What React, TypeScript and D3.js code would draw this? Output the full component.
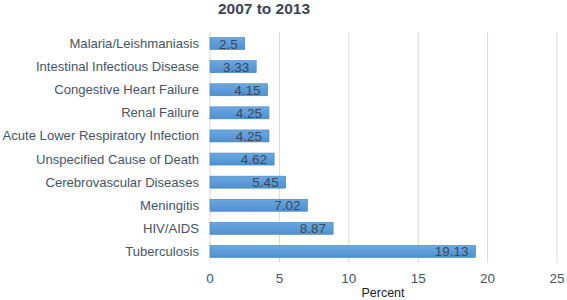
import React from "react";
import * as d3 from "d3";

const categories = [
  "Malaria/Leishmaniasis",
  "Intestinal Infectious Disease",
  "Congestive Heart Failure",
  "Renal Failure",
  "Acute Lower Respiratory Infection",
  "Unspecified Cause of Death",
  "Cerebrovascular Diseases",
  "Meningitis",
  "HIV/AIDS",
  "Tuberculosis",
];
const values = [2.5, 3.33, 4.15, 4.25, 4.25, 4.62, 5.45, 7.02, 8.87, 19.13];
const valueLabels = ["2.5", "3.33", "4.15", "4.25", "4.25", "4.62", "5.45", "7.02", "8.87", "19.13"];
const xTicks = [0, 5, 10, 15, 20, 25];
const title = "2007 to 2013";
const xTitle = "Percent";

export default function App() {
  const W = 567, H = 300;
  const x = d3.scaleLinear().domain([0, 25]).range([210, 557]);
  const y = d3.scaleBand<string>().domain(categories).range([32, 263]).paddingInner(0.48).paddingOuter(0.24);
  const font = "'Liberation Sans', Arial, sans-serif";
  const textColor = "#44546a";
  return (
    <svg width={W} height={H} style={{ position: "absolute", left: 0, top: 0, background: "#fff" }} fontFamily={font}>
      <defs>
        <linearGradient id="barg" x1="0" y1="0" x2="0" y2="1">
          <stop offset="0" stopColor="#6ba8e0" />
          <stop offset="1" stopColor="#4f90d0" />
        </linearGradient>
      </defs>
      <rect x={0} y={0} width={W} height={H} fill="#fff" />
      <text x={264} y={14} textAnchor="middle" fontSize={15.5} fontWeight="bold" fill="#3a4656">{title}</text>
      {xTicks.map((t) => (
        <g key={t}>
          <line x1={x(t)} x2={x(t)} y1={32} y2={263} stroke="#d9d9d9" strokeWidth={1} />
          <text x={x(t)} y={283} textAnchor="middle" fontSize={13.5} fill={textColor}>{t}</text>
        </g>
      ))}
      {categories.map((c, i) => {
        const yy = y(c)!;
        const bw = y.bandwidth();
        return (
          <g key={c}>
            <text x={199} y={yy + bw / 2 + 4.5} textAnchor="end" fontSize={13.1} fill={textColor}>{c}</text>
            <rect x={x(0)} y={yy} width={x(values[i]) - x(0)} height={bw} fill="url(#barg)" stroke="#3f82c4" strokeWidth={0.6} />
            <text x={x(values[i]) - 7} y={yy + bw / 2 + 5} textAnchor="end" fontSize={13.5} fill="#3d4756">{valueLabels[i]}</text>
          </g>
        );
      })}
      <text x={383} y={297} textAnchor="middle" fontSize={12.5} fill="#222">{xTitle}</text>
    </svg>
  );
}
